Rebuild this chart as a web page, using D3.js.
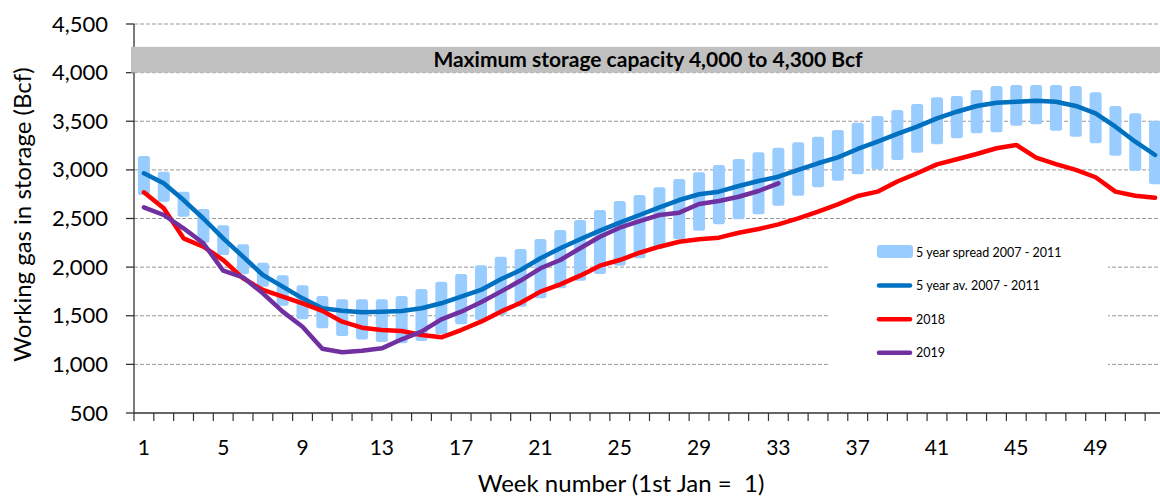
<!DOCTYPE html>
<html>
<head>
<meta charset="utf-8">
<script src="https://cdn.jsdelivr.net/npm/d3@7"></script>
<style>
  html, body { margin: 0; padding: 0; background: #fff; }
  svg { display: block; overflow: hidden; }
  text { white-space: pre; }
</style>
</head>
<body>
<div id="chart"></div>
<script>
const width = 1160, height = 499;
const margin = { left: 134, top: 24, right: -5, bottom: 86 };

// weeks 1..52
const weeks = d3.range(1, 53);
const xLabelWeeks = [1, 5, 9, 13, 17, 21, 25, 29, 33, 37, 41, 45, 49];
const yTicks = [500, 1000, 1500, 2000, 2500, 3000, 3500, 4000, 4500];
const gridValues = [1000, 1500, 2000, 2500, 3000, 3500, 4000, 4500];

const capacityBand = [4000, 4265];
const capacityLabel = 'Maximum storage capacity 4,000 to 4,300 Bcf';

const spreadLow = [2742, 2673, 2519, 2251, 2125, 1926, 1799, 1603, 1463, 1371, 1292, 1255, 1230, 1217, 1240, 1309,
  1412, 1456, 1508, 1593, 1679, 1782, 1860, 1929, 2015, 2091, 2194, 2286, 2375, 2440, 2492, 2543, 2632, 2734,
  2821, 2889, 2954, 3006, 3102, 3177, 3263, 3325, 3376, 3386, 3454, 3469, 3403, 3341, 3273, 3146, 2992, 2852];
const spreadHigh = [3143, 2981, 2776, 2598, 2430, 2235, 2045, 1916, 1813, 1703, 1669, 1669, 1669, 1703, 1775, 1850,
  1929, 2019, 2107, 2186, 2289, 2382, 2485, 2587, 2680, 2742, 2821, 2906, 2975, 3050, 3112, 3181, 3228, 3283,
  3341, 3410, 3485, 3554, 3616, 3677, 3746, 3760, 3821, 3862, 3873, 3873, 3873, 3862, 3798, 3657, 3582, 3506];
const avg5 = [2965, 2862, 2690, 2500, 2296, 2107, 1919, 1799, 1679, 1577, 1552, 1535, 1542, 1549, 1577, 1628,
  1696, 1765, 1875, 1970, 2091, 2194, 2286, 2375, 2457, 2536, 2615, 2690, 2749, 2776, 2834, 2886, 2930, 3000,
  3068, 3129, 3215, 3290, 3370, 3444, 3530, 3598, 3657, 3691, 3701, 3711, 3701, 3657, 3582, 3444, 3290, 3153];
const y2018 = [2769, 2605, 2296, 2210, 2073, 1885, 1765, 1696, 1628, 1550, 1439, 1377, 1353, 1343, 1302, 1278,
  1353, 1439, 1542, 1633, 1748, 1823, 1912, 2015, 2073, 2148, 2210, 2261, 2286, 2303, 2354, 2392, 2440, 2502,
  2570, 2646, 2731, 2776, 2880, 2965, 3057, 3109, 3163, 3222, 3256, 3125, 3060, 3000, 2924, 2776, 2734, 2714];
const y2019 = [2615, 2536, 2399, 2245, 1963, 1895, 1731, 1542, 1387, 1160, 1124, 1141, 1165, 1258, 1336, 1463,
  1542, 1638, 1748, 1862, 1988, 2073, 2194, 2313, 2405, 2474, 2536, 2560, 2649, 2680, 2724, 2783, 2862];

const legendItems = [
  { label: '5 year spread 2007 - 2011', type: 'bar', color: '#99CCFF' },
  { label: '5 year av. 2007 - 2011', type: 'line', color: '#0070C0' },
  { label: '2018', type: 'line', color: '#FF0000' },
  { label: '2019', type: 'line', color: '#7030A0' }
];

const font = 'Lato, Carlito, Calibri, sans-serif';

const svg = d3.select('#chart').append('svg')
  .attr('width', width).attr('height', height);

const xScale = d3.scaleBand().domain(weeks)
  .range([margin.left, width - margin.right]).padding(0);
const yScale = d3.scaleLinear().domain([500, 4500])
  .range([height - margin.bottom, margin.top]);
const bw = xScale.bandwidth();
const cx = w => xScale(w) + bw / 2;

/* Grid */
svg.append('g').selectAll('line')
  .data(gridValues).join('line')
  .attr('x1', margin.left).attr('x2', width)
  .attr('y1', d => yScale(d)).attr('y2', d => yScale(d))
  .attr('stroke', '#999').attr('stroke-width', 1)
  .attr('stroke-dasharray', '4,2');

/* Legend background hides grid */
svg.append('rect')
  .attr('x', 828).attr('y', 234).attr('width', 280).attr('height', 142)
  .attr('fill', '#fff');

/* Axes */
const axisColor = '#333';
svg.append('line')
  .attr('x1', margin.left).attr('x2', margin.left)
  .attr('y1', yScale(4500)).attr('y2', yScale(500))
  .attr('stroke', axisColor).attr('stroke-width', 1.3);
svg.append('line')
  .attr('x1', margin.left).attr('x2', width)
  .attr('y1', yScale(500)).attr('y2', yScale(500))
  .attr('stroke', axisColor).attr('stroke-width', 1.3);

svg.append('g').selectAll('line')
  .data(yTicks).join('line')
  .attr('x1', margin.left - 8).attr('x2', margin.left)
  .attr('y1', d => yScale(d)).attr('y2', d => yScale(d))
  .attr('stroke', axisColor).attr('stroke-width', 1.3);

svg.append('g').selectAll('text')
  .data(yTicks).join('text')
  .attr('x', 108).attr('y', d => yScale(d) + 7.5)
  .attr('text-anchor', 'end')
  .attr('font-family', font).attr('font-size', '22px').attr('fill', '#000')
  .text(d => d3.format(',')(d));

svg.append('g').selectAll('line')
  .data(weeks.concat([53])).join('line')
  .attr('x1', d => d <= 52 ? xScale(d) : xScale(52) + bw)
  .attr('x2', d => d <= 52 ? xScale(d) : xScale(52) + bw)
  .attr('y1', yScale(500)).attr('y2', yScale(500) + 8)
  .attr('stroke', axisColor).attr('stroke-width', 1.2);

svg.append('g').selectAll('text')
  .data(xLabelWeeks).join('text')
  .attr('x', d => cx(d)).attr('y', 455)
  .attr('text-anchor', 'middle')
  .attr('font-family', font).attr('font-size', '21px').attr('fill', '#000')
  .text(d => d);

svg.append('text')
  .attr('x', 621).attr('y', 492)
  .attr('text-anchor', 'middle')
  .attr('font-family', font).attr('font-size', '24px').attr('fill', '#000')
  .text('Week number (1st Jan =  1)');

svg.append('text')
  .attr('transform', 'rotate(-90)')
  .attr('x', -(yScale(500) + yScale(4500)) / 2 + 4).attr('y', 31)
  .attr('text-anchor', 'middle')
  .attr('font-family', font).attr('font-size', '24px').attr('fill', '#000')
  .text('Working gas in storage (Bcf)');

/* Capacity band */
svg.append('rect')
  .attr('x', margin.left - 3).attr('width', width - margin.left + 3)
  .attr('y', yScale(capacityBand[1]))
  .attr('height', yScale(capacityBand[0]) - yScale(capacityBand[1]))
  .attr('fill', '#C0C0C0');
svg.append('text')
  .attr('x', 648).attr('y', (yScale(capacityBand[0]) + yScale(capacityBand[1])) / 2 + 7)
  .attr('text-anchor', 'middle')
  .attr('font-family', font).attr('font-size', '21px').attr('font-weight', 700)
  .attr('fill', '#000')
  .text(capacityLabel);

/* Spread bars */
const barW = 12;
svg.append('g').selectAll('rect')
  .data(weeks).join('rect')
  .attr('x', d => cx(d) - barW / 2).attr('width', barW)
  .attr('y', (d, i) => yScale(spreadHigh[i]))
  .attr('height', (d, i) => yScale(spreadLow[i]) - yScale(spreadHigh[i]))
  .attr('rx', 2.5)
  .attr('fill', '#99CCFF');

/* Lines */
const line = d3.line()
  .x((d, i) => cx(weeks[i]))
  .y(d => yScale(d));

[[avg5, '#0070C0'], [y2018, '#FF0000'], [y2019, '#7030A0']].forEach(([vals, col]) => {
  svg.append('path')
    .attr('d', line(vals))
    .attr('fill', 'none').attr('stroke', col)
    .attr('stroke-width', 4.5)
    .attr('stroke-linejoin', 'round').attr('stroke-linecap', 'round');
});

/* Legend */
const leg = svg.append('g').attr('transform', 'translate(877,252)');
legendItems.forEach((it, i) => {
  const r = leg.append('g').attr('transform', `translate(0,${i * 33.6})`);
  if (it.type === 'bar') {
    r.append('rect').attr('x', 0).attr('y', -7).attr('width', 36).attr('height', 13)
      .attr('rx', 3).attr('fill', it.color);
  } else {
    r.append('line').attr('x1', 2).attr('x2', 33).attr('y1', 0).attr('y2', 0)
      .attr('stroke', it.color).attr('stroke-width', 4.5).attr('stroke-linecap', 'round');
  }
  r.append('text').attr('x', 39).attr('y', 4.5)
    .attr('font-family', font).attr('font-size', '12.5px').attr('fill', '#000')
    .text(it.label);
});
</script>
</body>
</html>
